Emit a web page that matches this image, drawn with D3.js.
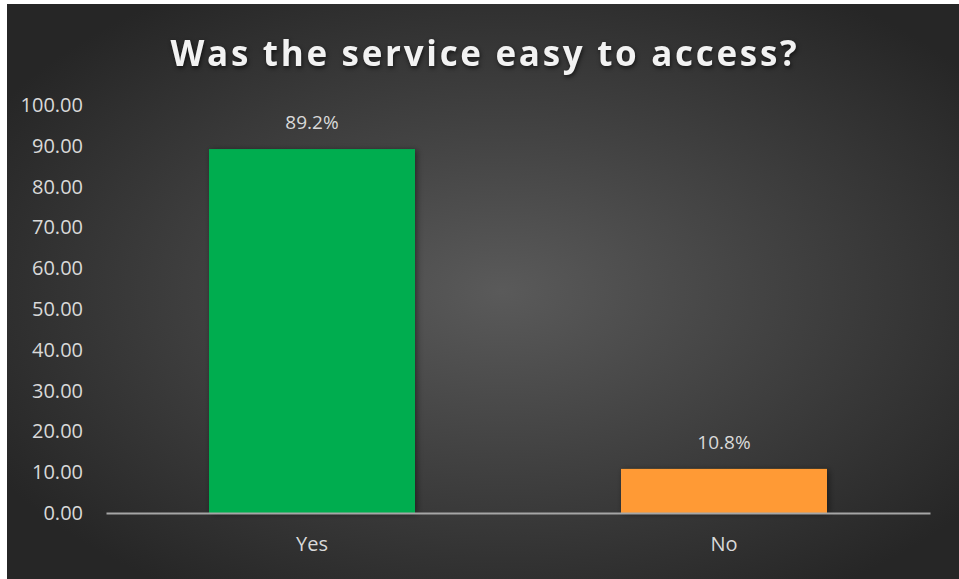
<!DOCTYPE html>
<html>
<head>
<meta charset="utf-8">
<script src="https://cdn.jsdelivr.net/npm/d3@7"></script>
<style>
  html, body { margin: 0; padding: 0; background: #fff; }
  svg { display: block; }
</style>
</head>
<body>
<script>
const categories = ['Yes', 'No'];
const values = [89.2, 10.8];
const colors = ['#00ad4f', '#ff9a35'];
const yTicks = [0, 10, 20, 30, 40, 50, 60, 70, 80, 90, 100];
const title = 'Was the service easy to access?';

const width = 959;
const height = 579;

const svg = d3.select('body')
  .append('svg')
    .attr('width', width)
    .attr('height', height);

const defs = svg.append('defs');
const grad = defs.append('radialGradient')
    .attr('id', 'bg')
    .attr('cx', '52%').attr('cy', '50%').attr('r', '62%');
grad.append('stop').attr('offset', '0%').attr('stop-color', '#5a5a5a');
grad.append('stop').attr('offset', '100%').attr('stop-color', '#262626');

const shadow = defs.append('filter')
    .attr('id', 'shadow')
    .attr('x', '-10%').attr('y', '-10%').attr('width', '130%').attr('height', '130%');
shadow.append('feDropShadow')
    .attr('dx', 2).attr('dy', 1).attr('stdDeviation', 3)
    .attr('flood-color', '#000').attr('flood-opacity', 0.45);

svg.append('rect')
    .attr('x', 7).attr('y', 4)
    .attr('width', width - 7).attr('height', height - 4)
    .attr('fill', 'url(#bg)');

const x = d3.scaleBand()
    .domain(categories)
    .range([106, 930])
    .paddingInner(0.5)
    .paddingOuter(0.25);

const y = d3.scaleLinear()
    .domain([0, 100])
    .range([513, 105]);

// title
svg.append('text')
    .attr('x', 485)
    .attr('y', 66)
    .attr('text-anchor', 'middle')
    .attr('font-family', 'Open Sans, sans-serif')
    .attr('font-weight', 700)
    .attr('font-size', 35)
    .attr('letter-spacing', 2.7)
    .attr('fill', '#f2f2f2')
    .style('filter', 'drop-shadow(1px 2px 2px rgba(0,0,0,0.6))')
    .text(title);

// y axis labels
const yAxis = svg.append('g')
    .attr('transform', 'translate(83,0)')
    .call(d3.axisLeft(y).tickValues(yTicks).tickFormat(d3.format('.2f')).tickSize(0).tickPadding(0));
yAxis.select('.domain').remove();
yAxis.selectAll('text')
    .attr('font-family', 'Open Sans, sans-serif')
    .attr('font-size', 20)
    .attr('fill', '#d9d9d9');

// bars
svg.append('g')
  .selectAll('rect')
  .data(values)
  .enter().append('rect')
    .attr('x', (d, i) => x(categories[i]))
    .attr('y', d => y(d))
    .attr('width', x.bandwidth())
    .attr('height', d => y(0) - y(d))
    .attr('fill', (d, i) => colors[i])
    .attr('filter', 'url(#shadow)');

// data labels
svg.append('g')
  .selectAll('text')
  .data(values)
  .enter().append('text')
    .attr('x', (d, i) => x(categories[i]) + x.bandwidth() / 2)
    .attr('y', d => y(d) - 20)
    .attr('text-anchor', 'middle')
    .attr('font-family', 'Open Sans, sans-serif')
    .attr('font-size', 19)
    .attr('fill', '#d9d9d9')
    .text(d => d.toFixed(1) + '%');

// x axis
const xAxis = svg.append('g')
    .attr('transform', `translate(0,${y(0)})`)
    .call(d3.axisBottom(x).tickSize(0).tickPadding(24));
xAxis.select('.domain')
    .attr('stroke', '#a6a6a6')
    .attr('stroke-width', 2);
xAxis.selectAll('text')
    .attr('font-family', 'Open Sans, sans-serif')
    .attr('font-size', 20)
    .attr('fill', '#d9d9d9');
</script>
</body>
</html>
